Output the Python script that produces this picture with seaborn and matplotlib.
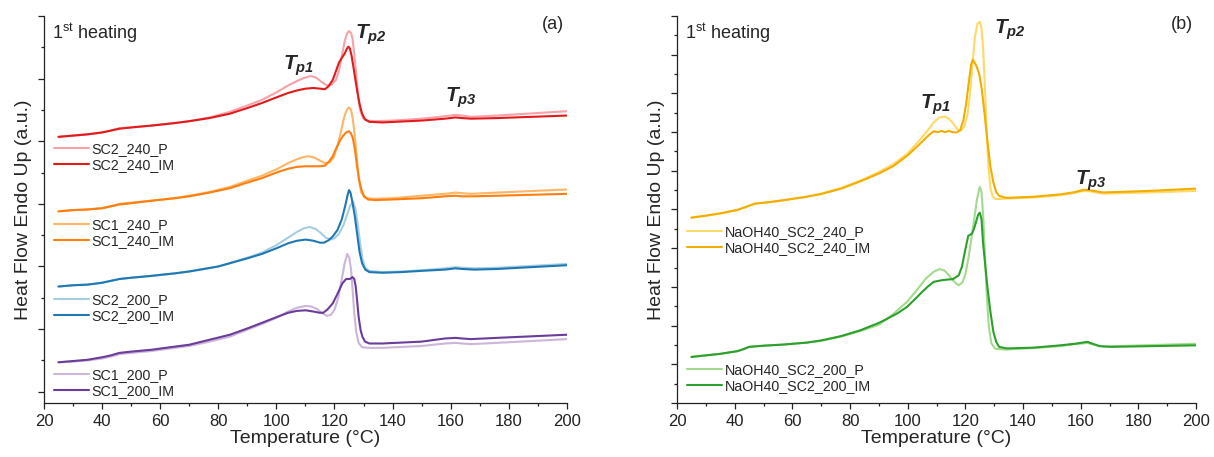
import matplotlib
matplotlib.use("Agg")
import matplotlib.pyplot as plt
from matplotlib.lines import Line2D
from matplotlib.legend import Legend
from matplotlib.ticker import MultipleLocator
import seaborn as sns

# ---- data (arbitrary units) ----
# panel (a)
sc2_240_p_T = [25, 30, 35, 40, 43, 46, 50, 57, 65, 70, 77, 84, 90, 95, 100, 104, 107, 109.5, 111.7, 113.5,
               115.5, 117.4, 119.0, 120.5, 121.5, 122.5, 123.5, 124.3, 125.0, 125.7, 126.2, 126.8, 127.5, 128.2,
               128.8, 129.8, 131, 134, 140, 150, 158, 161.6, 164, 166.9, 176, 200]
sc2_240_p_hf = [4.07, 4.09, 4.11, 4.14, 4.17, 4.21, 4.22, 4.25, 4.29, 4.32, 4.38, 4.47, 4.57, 4.66, 4.78, 4.89,
                4.96, 5.01, 5.04, 5.02, 4.95, 4.89, 4.90, 4.98, 5.12, 5.35, 5.60, 5.72, 5.76, 5.73, 5.64, 5.40,
                5.05, 4.70, 4.50, 4.37, 4.33, 4.32, 4.33, 4.36, 4.40, 4.42, 4.41, 4.39, 4.41, 4.48]
sc2_240_im_T = [25, 30, 35, 40, 43, 46, 50, 57, 65, 70, 77, 84, 90, 95, 100, 104, 107, 110, 112.8, 115, 116.7,
                118, 119.4, 120.5, 121.5, 122.5, 123.5, 124.3, 124.8, 125.3, 125.9, 126.6, 127.3, 128, 128.7,
                129.5, 130.5, 132, 136.5, 150, 158, 161.6, 164, 166.9, 176, 200]
sc2_240_im_hf = [4.07, 4.09, 4.11, 4.14, 4.17, 4.20, 4.22, 4.25, 4.29, 4.32, 4.37, 4.44, 4.53, 4.61, 4.70, 4.77,
                 4.81, 4.84, 4.85, 4.84, 4.83, 4.88, 4.98, 5.12, 5.25, 5.33, 5.40, 5.48, 5.51, 5.48, 5.36, 5.16,
                 4.95, 4.75, 4.58, 4.44, 4.35, 4.31, 4.30, 4.33, 4.36, 4.38, 4.37, 4.36, 4.37, 4.41]

sc1_240_p_T = [25, 30, 35, 40, 43, 46, 50, 57, 65, 70, 77, 84, 90, 95, 100, 104, 107, 109.5, 111.2, 113, 115,
               116.7, 118.3, 119.7, 121, 122.2, 123.3, 124.3, 125.0, 125.7, 126.3, 127, 127.7, 128.4, 129.2,
               130.5, 133, 140, 150, 158, 161.6, 164, 166.9, 176, 200]
sc1_240_p_hf = [2.88, 2.90, 2.91, 2.93, 2.96, 3.00, 3.02, 3.05, 3.09, 3.13, 3.19, 3.27, 3.37, 3.45, 3.55, 3.65,
                3.71, 3.75, 3.76, 3.74, 3.69, 3.65, 3.66, 3.74, 3.92, 4.15, 4.38, 4.51, 4.54, 4.50, 4.36, 4.08,
                3.72, 3.38, 3.18, 3.10, 3.08, 3.09, 3.13, 3.16, 3.18, 3.17, 3.16, 3.18, 3.23]
sc1_240_im_T = [25, 30, 35, 40, 43, 46, 50, 57, 65, 70, 77, 84, 90, 95, 100, 104, 107, 110, 112.8, 115, 116.7,
                118, 119.4, 120.7, 122, 123, 124, 124.9, 125.6, 126.3, 127, 127.7, 128.5, 129.3, 130.2, 131.5,
                134, 140, 150, 158, 161.6, 164, 166.9, 176, 200]
sc1_240_im_hf = [2.88, 2.90, 2.91, 2.93, 2.96, 2.99, 3.01, 3.05, 3.09, 3.12, 3.18, 3.25, 3.34, 3.41, 3.50, 3.56,
                 3.59, 3.60, 3.60, 3.60, 3.61, 3.67, 3.76, 3.90, 4.02, 4.09, 4.14, 4.16, 4.13, 4.05, 3.88, 3.62,
                 3.38, 3.22, 3.12, 3.07, 3.06, 3.07, 3.09, 3.12, 3.13, 3.12, 3.12, 3.13, 3.16]

sc2_200_p_T = [25, 30, 35, 40, 43, 46, 50, 57, 65, 70, 80, 90, 95, 100, 104, 107, 109.5, 111.5, 113.5, 115.4,
               117, 118.7, 120, 121.5, 123, 124.3, 125.3, 126.3, 127.2, 128, 128.8, 129.6, 130.5, 132, 136.5,
               143, 150, 158, 161.6, 164, 168.2, 176, 200]
sc2_200_p_hf = [1.68, 1.70, 1.71, 1.74, 1.77, 1.80, 1.82, 1.85, 1.89, 1.92, 2.00, 2.14, 2.22, 2.34, 2.46, 2.55,
                2.61, 2.63, 2.60, 2.53, 2.46, 2.43, 2.45, 2.52, 2.65, 2.82, 2.96, 3.04, 2.93, 2.68, 2.38, 2.13,
                1.98, 1.93, 1.91, 1.92, 1.94, 1.97, 1.99, 1.98, 1.97, 1.98, 2.04]
sc2_200_im_T = [25, 30, 35, 40, 43, 46, 50, 57, 65, 70, 80, 90, 95, 100, 104, 107, 110.1, 112.8, 115, 116.4,
                118, 119.4, 121, 122.5, 123.7, 124.5, 125.0, 125.5, 126.2, 127, 127.8, 128.6, 129.5, 130.6, 132,
                136.5, 143, 150, 158, 161.6, 164, 168.2, 176, 200]
sc2_200_im_hf = [1.68, 1.70, 1.71, 1.74, 1.77, 1.80, 1.82, 1.85, 1.89, 1.92, 2.00, 2.13, 2.20, 2.29, 2.37, 2.41,
                 2.43, 2.41, 2.38, 2.38, 2.42, 2.48, 2.58, 2.75, 2.97, 3.14, 3.22, 3.18, 3.02, 2.80, 2.52, 2.24,
                 2.05, 1.95, 1.91, 1.90, 1.91, 1.93, 1.95, 1.97, 1.96, 1.95, 1.96, 2.02]

sc1_200_p_T = [25, 30, 35, 40, 43, 46, 50, 57, 65, 70, 77, 84, 90, 95, 100, 104, 107, 110.1, 112, 114, 116,
               117.4, 118.8, 120, 121.3, 122.5, 123.5, 124.4, 125.1, 125.7, 126.2, 126.8, 127.5, 128.3, 129.5,
               132, 136.5, 150, 158, 161.6, 164, 166.9, 176, 200]
sc1_200_p_hf = [0.47, 0.48, 0.50, 0.53, 0.56, 0.60, 0.62, 0.65, 0.70, 0.73, 0.80, 0.88, 0.99, 1.08, 1.18, 1.28,
                1.34, 1.37, 1.36, 1.32, 1.25, 1.21, 1.23, 1.31, 1.50, 1.80, 2.05, 2.20, 2.14, 1.95, 1.65, 1.25,
                0.95, 0.78, 0.71, 0.70, 0.70, 0.73, 0.77, 0.78, 0.77, 0.76, 0.78, 0.84]
sc1_200_im_T = [25, 30, 35, 40, 43, 46, 50, 57, 65, 70, 77, 84, 90, 95, 100, 104, 107, 110.1, 112.8, 115, 116.1,
                117.5, 119.4, 121, 122.7, 124, 125.3, 126.2, 126.8, 127.3, 127.8, 128.3, 129, 129.6, 130.5, 132,
                136.5, 150, 158, 161.6, 164, 166.9, 176, 200]
sc1_200_im_hf = [0.47, 0.49, 0.51, 0.55, 0.58, 0.62, 0.64, 0.67, 0.72, 0.75, 0.83, 0.91, 1.01, 1.10, 1.19, 1.26,
                 1.29, 1.30, 1.28, 1.26, 1.26, 1.31, 1.41, 1.56, 1.73, 1.80, 1.80, 1.83, 1.80, 1.68, 1.45, 1.20,
                 0.98, 0.88, 0.80, 0.77, 0.77, 0.80, 0.85, 0.86, 0.85, 0.84, 0.86, 0.91]

# panel (b)
na_240_p_T = [25, 30, 35, 41, 44, 47, 52, 57, 65, 70, 77, 84, 90, 95, 100, 104, 107, 109, 111, 113, 114.5, 116,
              117.3, 118.5, 119.7, 120.8, 121.7, 122.5, 123.3, 124.2, 125, 125.6, 126.2, 126.8, 127.4, 128,
              128.7, 129.5, 130.5, 134, 143.7, 153, 158, 161, 163, 167.7, 183.7, 200]
na_240_p_hf = [4.79, 4.84, 4.90, 4.99, 5.07, 5.15, 5.19, 5.24, 5.33, 5.41, 5.56, 5.76, 5.97, 6.17, 6.45, 6.78,
               7.05, 7.25, 7.38, 7.40, 7.33, 7.20, 7.06, 7.04, 7.15, 7.48, 8.05, 8.80, 9.45, 9.80, 9.85, 9.68,
               9.10, 8.10, 7.00, 6.10, 5.55, 5.33, 5.27, 5.28, 5.31, 5.37, 5.43, 5.48, 5.47, 5.41, 5.44, 5.48]
na_240_im_T = [25, 30, 35, 41, 44, 47, 52, 57, 65, 70, 77, 84, 90, 95, 100, 104, 107, 109, 110.5, 111.7, 113,
               114.3, 115.5, 117, 118.2, 119.3, 120.3, 121.2, 122, 122.6, 123.2, 124, 124.8, 125.7, 126.7, 127.7,
               128.7, 129.7, 130.7, 131.7, 134.3, 143.7, 153, 158, 161, 163, 167.7, 183.7, 200]
na_240_im_hf = [4.79, 4.84, 4.90, 4.99, 5.07, 5.15, 5.19, 5.24, 5.33, 5.40, 5.54, 5.74, 5.93, 6.12, 6.40, 6.68,
                6.90, 7.02, 7.00, 7.03, 7.00, 7.03, 7.00, 6.99, 7.05, 7.30, 7.75, 8.30, 8.75, 8.87, 8.80, 8.68,
                8.50, 8.10, 7.45, 6.72, 6.10, 5.70, 5.45, 5.35, 5.30, 5.33, 5.39, 5.45, 5.51, 5.50, 5.44, 5.48,
                5.54]

na_200_p_T = [25, 30, 35, 41, 43, 45, 50, 57, 65, 70.3, 77, 83.6, 90, 95, 99.7, 103, 106.3, 109, 111, 112.8,
              114.3, 116, 117.7, 119, 120, 121, 122, 123, 124, 125, 125.6, 126.2, 126.8, 127.4, 128.1, 129,
              130.3, 134, 143.7, 153, 158, 162.3, 165, 167.7, 200]
na_200_p_hf = [1.19, 1.23, 1.27, 1.34, 1.39, 1.45, 1.48, 1.51, 1.56, 1.61, 1.72, 1.86, 2.02, 2.30, 2.61, 2.90,
               3.22, 3.39, 3.46, 3.42, 3.30, 3.14, 3.04, 3.12, 3.33, 3.72, 4.20, 4.72, 5.25, 5.59, 5.45, 4.80,
               3.82, 2.80, 2.00, 1.55, 1.40, 1.38, 1.42, 1.47, 1.52, 1.55, 1.50, 1.46, 1.53]
na_200_im_T = [25, 30, 35, 41, 43, 45, 50, 57, 65, 70.3, 77, 83.6, 90, 93, 96.5, 99.7, 102.5, 105, 107, 109,
               111.7, 113.8, 115.7, 117.7, 118.8, 119.7, 120.5, 121, 121.7, 122.3, 123, 123.7, 124.4, 125, 125.6,
               126.1, 126.9, 127.7, 128.7, 129.7, 130.7, 131.7, 134.3, 143.7, 153, 158, 162.3, 166.4, 170.4, 200]
na_200_im_hf = [1.19, 1.23, 1.27, 1.34, 1.39, 1.45, 1.48, 1.51, 1.56, 1.62, 1.73, 1.88, 2.07, 2.18, 2.32, 2.48,
                2.68, 2.87, 3.01, 3.13, 3.17, 3.19, 3.20, 3.30, 3.52, 3.86, 4.15, 4.32, 4.35, 4.38, 4.50, 4.68,
                4.86, 4.92, 4.75, 4.16, 3.55, 2.96, 2.35, 1.84, 1.58, 1.45, 1.41, 1.43, 1.49, 1.53, 1.58, 1.47,
                1.45, 1.49]

# ---- style ----
sns.set_theme(style="ticks")
plt.rcParams["font.family"] = ["Liberation Sans", "DejaVu Sans"]
plt.rcParams["mathtext.fontset"] = "custom"
plt.rcParams["mathtext.rm"] = "Liberation Sans"
plt.rcParams["mathtext.it"] = "Liberation Sans:italic:bold"
plt.rcParams["mathtext.bf"] = "Liberation Sans:italic:bold"

LW = 1.5
panel_a = [
    [("SC2_240_P", sc2_240_p_T, sc2_240_p_hf, "#F7A2A8"), ("SC2_240_IM", sc2_240_im_T, sc2_240_im_hf, "#E31A1C")],
    [("SC1_240_P", sc1_240_p_T, sc1_240_p_hf, "#FDB567"), ("SC1_240_IM", sc1_240_im_T, sc1_240_im_hf, "#FF7F0E")],
    [("SC2_200_P", sc2_200_p_T, sc2_200_p_hf, "#A6CEE3"), ("SC2_200_IM", sc2_200_im_T, sc2_200_im_hf, "#1F78B4")],
    [("SC1_200_P", sc1_200_p_T, sc1_200_p_hf, "#CDB5DA"), ("SC1_200_IM", sc1_200_im_T, sc1_200_im_hf, "#6A3D9A")],
]
panel_b = [
    [("NaOH40_SC2_240_P", na_240_p_T, na_240_p_hf, "#FFD966"),
     ("NaOH40_SC2_240_IM", na_240_im_T, na_240_im_hf, "#F2AE00")],
    [("NaOH40_SC2_200_P", na_200_p_T, na_200_p_hf, "#A3DA8D"),
     ("NaOH40_SC2_200_IM", na_200_im_T, na_200_im_hf, "#2CA02C")],
]

fig = plt.figure(figsize=(12.14, 4.57), dpi=100)
ax_a = fig.add_axes([0.0362, 0.1182, 0.4308, 0.8468])
ax_b = fig.add_axes([0.5577, 0.1182, 0.4275, 0.8468])


def draw_panel(ax, groups, legend_y, ylim, tag):
    for group in groups:
        for name, T, hf, col in group:
            sns.lineplot(x=T, y=hf, color=col, lw=LW, ax=ax, estimator=None, sort=False, legend=False)
    # one small legend per sample pair
    for group, ly in zip(groups, legend_y):
        handles = [Line2D([], [], color=col, lw=LW) for _, _, _, col in group]
        labels = [name for name, _, _, _ in group]
        leg = Legend(ax, handles, labels, loc="center left", bbox_to_anchor=(0.02, ly), frameon=False,
                     fontsize=10.3, handlelength=2.4, handletextpad=0.2, labelspacing=0.15,
                     borderpad=0, borderaxespad=0)
        ax.add_artist(leg)

    ax.set_xlim(20, 200)
    ax.set_ylim(*ylim)
    ax.xaxis.set_major_locator(MultipleLocator(20))
    ax.xaxis.set_minor_locator(MultipleLocator(10))
    ax.yaxis.set_major_locator(MultipleLocator(1))
    ax.yaxis.set_minor_locator(MultipleLocator(0.5))
    ax.tick_params(which="major", direction="out", length=4.5, width=0.9, labelsize=12, colors="#222222")
    ax.tick_params(which="minor", direction="out", length=2.5, width=0.9, colors="#222222")
    ax.tick_params(axis="y", which="both", labelleft=False)
    sns.despine(ax=ax)
    for s in ("left", "bottom"):
        ax.spines[s].set_linewidth(0.9)
        ax.spines[s].set_color("#222222")
    ax.set_xlabel("Temperature (°C)", fontsize=14, labelpad=1)
    ax.set_ylabel("Heat Flow Endo Up (a.u.)", fontsize=14, labelpad=4)
    ax.text(0.015, 0.985, "1$^{\\mathrm{st}}$ heating", transform=ax.transAxes, fontsize=13,
            ha="left", va="top")
    ax.text(0.995, 1.0, tag, transform=ax.transAxes, fontsize=13, ha="right", va="top")


draw_panel(ax_a, panel_a, [0.636, 0.440, 0.245, 0.051], (-0.18, 6.0), "(a)")
draw_panel(ax_b, panel_b, [0.421, 0.065], (0, 10), "(b)")

# peak labels
for ax, pos in [(ax_a, [(107.5, 5.2, "1"), (132.5, 5.7, "2"), (163.5, 4.7, "3")]),
                (ax_b, [(109.5, 7.7, "1"), (135.5, 9.65, "2"), (163.5, 5.75, "3")])]:
    for t, y, num in pos:
        ax.text(t, y, "$\\mathit{T}_{\\mathit{p}\\mathbf{%s}}$" % num, fontsize=15, ha="center", va="center")

plt.savefig("out.png", dpi=100)
